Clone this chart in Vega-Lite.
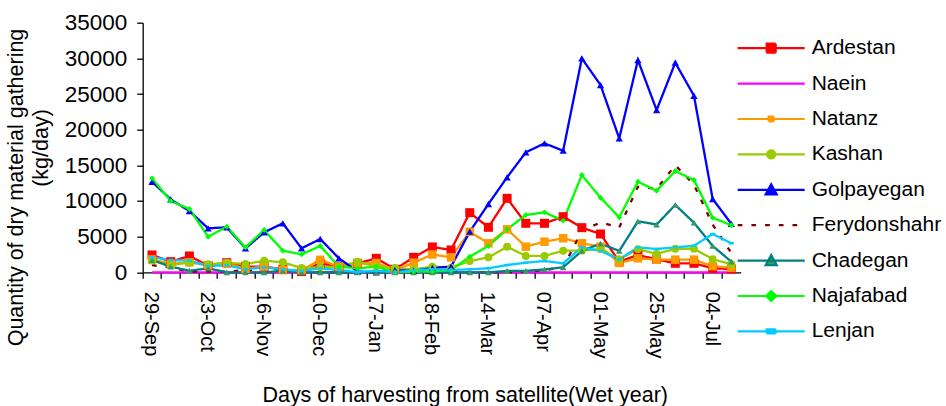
{
  "$schema": "https://vega.github.io/schema/vega-lite/v6.json",
  "autosize": {"type": "none"},
  "padding": {"left": 142.7, "top": 22.7, "right": 204.6, "bottom": 133.7},
  "width": 598,
  "height": 249.6,
  "background": "white",
  "title": {"text": "Quantity of dry material gathering", "orient": "left", "anchor": "middle", "fontSize": 21.5, "font": "Liberation Sans", "fontWeight": "normal", "color": "black", "offset": 3, "dx": -40},
  "config": {
    "view": {"stroke": null},
    "font": "Liberation Sans",
    "axis": {"grid": false, "domainColor": "black", "tickColor": "black", "labelColor": "black", "titleColor": "black", "labelFont": "Liberation Sans", "titleFont": "Liberation Sans", "titleFontWeight": "normal", "domainWidth": 1.3, "tickWidth": 1.3}
  },
  "data": {
    "values": [
      {"d": "29-Sep", "Ardestan": 2430, "Naein": 0, "Natanz": 1800, "Kashan": 1630, "Golpayegan": 12700, "Ferydonshahr": 1000, "Chadegan": 1720, "Najafabad": 13180, "Lenjan": 2100},
      {"d": "07-Oct", "Ardestan": 1490, "Naein": 0, "Natanz": 1200, "Kashan": 1020, "Golpayegan": 10230, "Ferydonshahr": 650, "Chadegan": 790, "Najafabad": 10000, "Lenjan": 1720},
      {"d": "15-Oct", "Ardestan": 2290, "Naein": 0, "Natanz": 1400, "Kashan": 1350, "Golpayegan": 8590, "Ferydonshahr": 100, "Chadegan": 220, "Najafabad": 8870, "Lenjan": 1630},
      {"d": "23-Oct", "Ardestan": 930, "Naein": 0, "Natanz": 1000, "Kashan": 1120, "Golpayegan": 6170, "Ferydonshahr": 100, "Chadegan": 560, "Najafabad": 4990, "Lenjan": 880},
      {"d": "31-Oct", "Ardestan": 1350, "Naein": 0, "Natanz": 1200, "Kashan": 1350, "Golpayegan": 6310, "Ferydonshahr": 100, "Chadegan": 0, "Najafabad": 6400, "Lenjan": 980},
      {"d": "08-Nov", "Ardestan": 790, "Naein": 0, "Natanz": 500, "Kashan": 1160, "Golpayegan": 3360, "Ferydonshahr": 300, "Chadegan": 0, "Najafabad": 3500, "Lenjan": 420},
      {"d": "16-Nov", "Ardestan": 790, "Naein": 0, "Natanz": 800, "Kashan": 1630, "Golpayegan": 5610, "Ferydonshahr": 400, "Chadegan": 0, "Najafabad": 5930, "Lenjan": 700},
      {"d": "24-Nov", "Ardestan": 420, "Naein": 0, "Natanz": 300, "Kashan": 1400, "Golpayegan": 6870, "Ferydonshahr": 400, "Chadegan": 200, "Najafabad": 3030, "Lenjan": 420},
      {"d": "02-Dec", "Ardestan": 100, "Naein": 0, "Natanz": 300, "Kashan": 600, "Golpayegan": 3360, "Ferydonshahr": 100, "Chadegan": 0, "Najafabad": 2520, "Lenjan": 180},
      {"d": "10-Dec", "Ardestan": 1260, "Naein": 0, "Natanz": 1750, "Kashan": 700, "Golpayegan": 4670, "Ferydonshahr": 0, "Chadegan": 0, "Najafabad": 3690, "Lenjan": 560},
      {"d": "18-Dec", "Ardestan": 790, "Naein": 0, "Natanz": 800, "Kashan": 800, "Golpayegan": 1960, "Ferydonshahr": 0, "Chadegan": 0, "Najafabad": 790, "Lenjan": 320},
      {"d": "01-Jan", "Ardestan": 1260, "Naein": 0, "Natanz": 1250, "Kashan": 1490, "Golpayegan": 100, "Ferydonshahr": 0, "Chadegan": 0, "Najafabad": 560, "Lenjan": 40},
      {"d": "17-Jan", "Ardestan": 1960, "Naein": 0, "Natanz": 1300, "Kashan": 800, "Golpayegan": 0, "Ferydonshahr": 0, "Chadegan": 0, "Najafabad": 800, "Lenjan": 220},
      {"d": "25-Jan", "Ardestan": 420, "Naein": 0, "Natanz": 300, "Kashan": 600, "Golpayegan": 300, "Ferydonshahr": 0, "Chadegan": 0, "Najafabad": 0, "Lenjan": 0},
      {"d": "02-Feb", "Ardestan": 2100, "Naein": 0, "Natanz": 1350, "Kashan": 420, "Golpayegan": 200, "Ferydonshahr": 0, "Chadegan": 0, "Najafabad": 100, "Lenjan": 300},
      {"d": "18-Feb", "Ardestan": 3550, "Naein": 0, "Natanz": 2500, "Kashan": 800, "Golpayegan": 600, "Ferydonshahr": 0, "Chadegan": 0, "Najafabad": 100, "Lenjan": 420},
      {"d": "26-Feb", "Ardestan": 3130, "Naein": 0, "Natanz": 2100, "Kashan": 650, "Golpayegan": 800, "Ferydonshahr": 0, "Chadegan": 0, "Najafabad": 300, "Lenjan": 320},
      {"d": "06-Mar", "Ardestan": 8360, "Naein": 0, "Natanz": 5690, "Kashan": 1580, "Golpayegan": 5690, "Ferydonshahr": 0, "Chadegan": 0, "Najafabad": 2190, "Lenjan": 420},
      {"d": "14-Mar", "Ardestan": 6310, "Naein": 0, "Natanz": 4070, "Kashan": 2100, "Golpayegan": 9580, "Ferydonshahr": 0, "Chadegan": 0, "Najafabad": 3690, "Lenjan": 560},
      {"d": "22-Mar", "Ardestan": 10370, "Naein": 0, "Natanz": 6030, "Kashan": 3590, "Golpayegan": 13320, "Ferydonshahr": 0, "Chadegan": 200, "Najafabad": 6030, "Lenjan": 1020},
      {"d": "30-Mar", "Ardestan": 6870, "Naein": 0, "Natanz": 3590, "Kashan": 2290, "Golpayegan": 16820, "Ferydonshahr": 100, "Chadegan": 200, "Najafabad": 8030, "Lenjan": 1350},
      {"d": "07-Apr", "Ardestan": 6870, "Naein": 0, "Natanz": 4290, "Kashan": 2290, "Golpayegan": 18080, "Ferydonshahr": 300, "Chadegan": 400, "Najafabad": 8410, "Lenjan": 1580},
      {"d": "15-Apr", "Ardestan": 7800, "Naein": 0, "Natanz": 4770, "Kashan": 3030, "Golpayegan": 17050, "Ferydonshahr": 700, "Chadegan": 700, "Najafabad": 7240, "Lenjan": 1260},
      {"d": "23-Apr", "Ardestan": 6260, "Naein": 0, "Natanz": 4070, "Kashan": 3050, "Golpayegan": 30000, "Ferydonshahr": 5800, "Chadegan": 3000, "Najafabad": 13640, "Lenjan": 3500},
      {"d": "01-May", "Ardestan": 5370, "Naein": 0, "Natanz": 3590, "Kashan": 3250, "Golpayegan": 26260, "Ferydonshahr": 7000, "Chadegan": 4020, "Najafabad": 10460, "Lenjan": 2990},
      {"d": "09-May", "Ardestan": 1490, "Naein": 0, "Natanz": 1300, "Kashan": 1820, "Golpayegan": 18780, "Ferydonshahr": 6300, "Chadegan": 3000, "Najafabad": 7710, "Lenjan": 1820},
      {"d": "17-May", "Ardestan": 2430, "Naein": 0, "Natanz": 1960, "Kashan": 3250, "Golpayegan": 29760, "Ferydonshahr": 12000, "Chadegan": 7150, "Najafabad": 12700, "Lenjan": 3500},
      {"d": "25-May", "Ardestan": 1820, "Naein": 0, "Natanz": 1770, "Kashan": 2570, "Golpayegan": 22750, "Ferydonshahr": 11700, "Chadegan": 6700, "Najafabad": 11440, "Lenjan": 3270},
      {"d": "02-Jun", "Ardestan": 1260, "Naein": 0, "Natanz": 1770, "Kashan": 3300, "Golpayegan": 29390, "Ferydonshahr": 15000, "Chadegan": 9450, "Najafabad": 14200, "Lenjan": 3500},
      {"d": "18-Jun", "Ardestan": 1260, "Naein": 0, "Natanz": 1770, "Kashan": 3300, "Golpayegan": 24760, "Ferydonshahr": 12300, "Chadegan": 6950, "Najafabad": 12940, "Lenjan": 3730},
      {"d": "04-Jul", "Ardestan": 560, "Naein": 0, "Natanz": 860, "Kashan": 1840, "Golpayegan": 10280, "Ferydonshahr": 6700, "Chadegan": 3700, "Najafabad": 7660, "Lenjan": 5370},
      {"d": "12-Jul", "Ardestan": 460, "Naein": 0, "Natanz": 630, "Kashan": 1140, "Golpayegan": 6800, "Ferydonshahr": 2700, "Chadegan": 1490, "Najafabad": 6600, "Lenjan": 4070}
    ]
  },
  "transform": [
    {"fold": ["Ardestan", "Naein", "Natanz", "Kashan", "Golpayegan", "Ferydonshahr", "Chadegan", "Najafabad", "Lenjan"], "as": ["series", "v"]}
  ],
  "encoding": {
    "x": {
      "field": "d", "type": "ordinal", "sort": null,
      "scale": {"type": "band", "paddingInner": 0, "paddingOuter": 0},
      "axis": {
        "title": "Days of harvesting from satellite(Wet year)",
        "titleFontSize": 21.5, "titleX": 322, "titleY": 129.5, "titleBaseline": "alphabetic",
        "labelAngle": 90, "labelFontSize": 20, "labelOffset": -1, "labelPadding": 13,
        "labelOverlap": false, "labelBound": false,
        "bandPosition": 0, "tickSize": 6,
        "labelExpr": "indexof(['29-Sep','23-Oct','16-Nov','10-Dec','17-Jan','18-Feb','14-Mar','07-Apr','01-May','25-May','04-Jul'], datum.value) >= 0 ? datum.value : ''"
      }
    },
    "y": {
      "field": "v", "type": "quantitative",
      "scale": {"domain": [0, 35000], "nice": false},
      "axis": {
        "title": "(kg/day)",
        "titleFontSize": 21.5, "titleX": -100.7, "titleBaseline": "middle",
        "values": [0, 5000, 10000, 15000, 20000, 25000, 30000, 35000],
        "format": "d", "labelFontSize": 22.5, "labelPadding": 10, "tickSize": 6
      }
    }
  },
  "layer": [
    {
      "mark": {"type": "line", "strokeWidth": 2.3},
      "encoding": {
        "color": {
          "field": "series", "type": "nominal",
          "scale": {
            "domain": ["Ardestan", "Naein", "Natanz", "Kashan", "Golpayegan", "Ferydonshahr", "Chadegan", "Najafabad", "Lenjan"],
            "range": ["#FF0000", "#FF00FF", "#FF9900", "#99CC00", "#0000FF", "#800000", "#008080", "#00FF00", "#00CCFF"]
          },
          "legend": {
            "title": null, "orient": "none", "legendX": 618, "legendY": 15,
            "padding": 0, "symbolSize": 100, "symbolStrokeWidth": 2.2,
            "labelFontSize": 21, "labelFont": "Liberation Sans", "labelColor": "black",
            "labelOffset": 30, "rowPadding": 13.4, "labelLimit": 0,
            "encode": {
              "symbols": {
                "update": {
                  "shape": {"signal": "datum.value === 'Ardestan' ? 'M-6.7,0H6.7M-0.9,-0.9H0.9V0.9H-0.9Z' : datum.value === 'Natanz' ? 'M-6.7,0H6.7M-0.5,-0.5H0.5V0.5H-0.5Z' : datum.value === 'Kashan' ? 'M-6.7,0H6.7M0.8,0A0.8,0.8,0,1,1,-0.8,0A0.8,0.8,0,1,1,0.8,0Z' : (datum.value === 'Golpayegan' || datum.value === 'Chadegan') ? 'M-6.7,0H6.7M0,-1.1L1.1,0.9H-1.1Z' : datum.value === 'Najafabad' ? 'M-6.7,0H6.7M0,-1L1,0L0,1L-1,0Z' : datum.value === 'Lenjan' ? 'M-6.7,0H6.7M-0.9,-0.4H0.9V0.4H-0.9Z' : 'M-6.7,0H6.7'"},
                  "fill": {"signal": "datum.value === 'Chadegan' ? '#339966' : scale('color', datum.value)"},
                  "stroke": {"signal": "scale('color', datum.value)"},
                  "strokeDash": {"signal": "datum.value === 'Ferydonshahr' ? [4.7, 9] : [1, 0]"},
                  "opacity": {"value": 1}
                }
              }
            }
          }
        },
        "strokeDash": {
          "field": "series", "type": "nominal",
          "scale": {
            "domain": ["Ardestan", "Naein", "Natanz", "Kashan", "Golpayegan", "Ferydonshahr", "Chadegan", "Najafabad", "Lenjan"],
            "range": [[1, 0], [1, 0], [1, 0], [1, 0], [1, 0], [4.7, 9], [1, 0], [1, 0], [1, 0]]
          },
          "legend": null
        }
      }
    },
    {
      "transform": [{"filter": "datum.series !== 'Naein' && datum.series !== 'Ferydonshahr'"}],
      "mark": {"type": "point", "filled": true, "opacity": 1, "strokeWidth": 0},
      "encoding": {
        "shape": {
          "field": "series", "type": "nominal",
          "scale": {
            "domain": ["Ardestan", "Natanz", "Kashan", "Golpayegan", "Chadegan", "Najafabad", "Lenjan"],
            "range": ["square", "square", "circle", "triangle-up", "triangle-up", "diamond", "M-1,-0.5H1V0.5H-1Z"]
          },
          "legend": null
        },
        "size": {
          "field": "series", "type": "nominal",
          "scale": {
            "domain": ["Ardestan", "Natanz", "Kashan", "Golpayegan", "Chadegan", "Najafabad", "Lenjan"],
            "range": [81, 25, 81, 140, 140, 130, 70]
          },
          "legend": null
        },
        "fill": {
          "field": "series", "type": "nominal",
          "scale": {
            "domain": ["Ardestan", "Natanz", "Kashan", "Golpayegan", "Chadegan", "Najafabad", "Lenjan"],
            "range": ["#FF0000", "#FF9900", "#99CC00", "#0000FF", "#339966", "#00FF00", "#00CCFF"]
          },
          "legend": null
        }
      }
    }
  ]
}
